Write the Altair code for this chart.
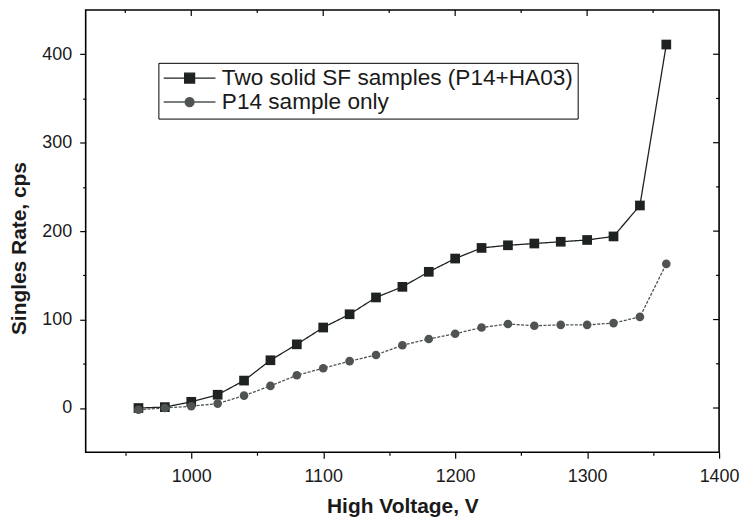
import altair as alt
import pandas as pd

# ---- data ----
voltage = [960, 980, 1000, 1020, 1040, 1060, 1080, 1100, 1120, 1140, 1160,
           1180, 1200, 1220, 1240, 1260, 1280, 1300, 1320, 1340, 1360]
two_samples = [0, 1, 7, 15, 31, 54, 72, 91, 106, 125, 137,
               154, 169, 181, 184, 186, 188, 190, 194, 229, 411]
p14_only = [-2, 0, 2, 5, 14, 25, 37, 45, 53, 60, 71,
            78, 84, 91, 95, 93, 94, 94, 96, 103, 163]
series_names = ["Two solid SF samples (P14+HA03)", "P14 sample only"]

x_axis_ticks = [950, 1000, 1050, 1100, 1150, 1200, 1250, 1300, 1350, 1400]
y_axis_ticks = [0, 50, 100, 150, 200, 250, 300, 350, 400]
x_major_inner = [1000, 1100, 1200, 1300]
x_minor_inner = [950, 1050, 1150, 1250, 1350]
y_major_inner = [0, 100, 200, 300, 400]
y_minor_inner = [50, 150, 250, 350]

df = pd.DataFrame({
    "voltage": voltage + voltage,
    "rate": two_samples + p14_only,
    "series": [series_names[0]] * len(voltage) + [series_names[1]] * len(voltage),
})

W, H = 636, 444
FONT = "Liberation Sans"
INK = "#1a1a1a"
COLORS = ["#1e2322", "#4f5453"]

xs = alt.Scale(domain=[920, 1400], nice=False, zero=False)
ys = alt.Scale(domain=[-50, 450], nice=False, zero=False)
color_scale = alt.Scale(domain=series_names, range=COLORS)

major_tick = {"condition": {"test": "datum.value % 100 === 0", "value": 6}, "value": 3}

x_axis = alt.Axis(
    values=x_axis_ticks, format="d",
    labelExpr="datum.value % 100 === 0 ? datum.label : ''",
    title="High Voltage, V", tickSize=major_tick, labelPadding=9, titlePadding=11,
    labelOverlap=False, labelFlush=False, grid=False,
)
y_axis = alt.Axis(
    values=y_axis_ticks, format="d",
    labelExpr="datum.value % 100 === 0 ? datum.label : ''",
    title="Singles Rate, cps", tickSize=major_tick, labelPadding=8, titlePadding=12,
    labelOverlap=False, grid=False, titleY=239,
)


def X(field):
    return alt.X(field, type="quantitative", scale=xs, axis=x_axis)


def Y(field):
    return alt.Y(field, type="quantitative", scale=ys, axis=y_axis)


base = alt.Chart(df)


def series_layers(name, color, dash, shape, size):
    sub = base.transform_filter(alt.datum.series == name)
    line = sub.mark_line(strokeWidth=1.3, color=color, strokeDash=dash).encode(
        x=X("voltage"), y=Y("rate"))
    pts = sub.mark_point(filled=True, opacity=1, shape=shape, size=size, color=color).encode(
        x=X("voltage"), y=Y("rate"))
    return [line, pts]


legend_paths = [
    "M-5.2,0H5.2M-1,-1H1V1H-1Z",
    "M-5.2,0H5.2M-0.9,0A0.9,0.9 0 1,0 0.9,0A0.9,0.9 0 1,0 -0.9,0Z",
]
leg = alt.Legend(
    title=None, orient="none", legendX=73, legendY=53,
    strokeColor="black", fillColor="white", padding=4, cornerRadius=0,
    symbolSize=100, symbolStrokeWidth=1.3, symbolOffset=16, labelOffset=21,
    symbolFillColor="black", symbolStrokeColor="black",
    labelFont=FONT, labelFontSize=22.7, labelColor=INK, labelLimit=600,
    rowPadding=0,
)
legend_layer = base.mark_point(filled=True, opacity=1, strokeWidth=1.3).encode(
    x=X("voltage"),
    y=Y("rate"),
    fill=alt.Fill("series:N", scale=color_scale, legend=leg),
    stroke=alt.Stroke("series:N", scale=color_scale, legend=leg),
    shape=alt.Shape("series:N", scale=alt.Scale(domain=series_names, range=legend_paths), legend=leg),
).transform_filter("false")


def hticks(vals, length):
    return alt.Chart(pd.DataFrame({"t": vals})).mark_rule(color="black", strokeWidth=1.2).encode(
        x=X("t"), y=alt.value(0), y2=alt.value(length))


def vticks(vals, length):
    return alt.Chart(pd.DataFrame({"t": vals})).mark_rule(color="black", strokeWidth=1.2).encode(
        y=Y("t"), x=alt.value(W), x2=alt.value(W - length))


layers = (series_layers(series_names[0], COLORS[0], [1, 0], "square", 95)
          + series_layers(series_names[1], COLORS[1], [3, 1.5], "circle", 75)
          + [legend_layer,
             hticks(x_major_inner, 6), hticks(x_minor_inner, 3),
             vticks(y_major_inner, 6), vticks(y_minor_inner, 3)])

chart = alt.layer(*layers).properties(
    width=W, height=H, padding={"left": 0, "top": 0, "right": 0, "bottom": 0},
).configure_view(
    stroke="black", strokeWidth=1.6,
).configure_axis(
    domain=False, tickColor="black", tickWidth=1.2,
    labelFont=FONT, labelFontSize=18, labelColor=INK,
    titleFont=FONT, titleFontSize=21, titleFontWeight="bold", titleColor=INK,
)

chart.save("out.html", embed_options={"renderer": "svg", "actions": False})
